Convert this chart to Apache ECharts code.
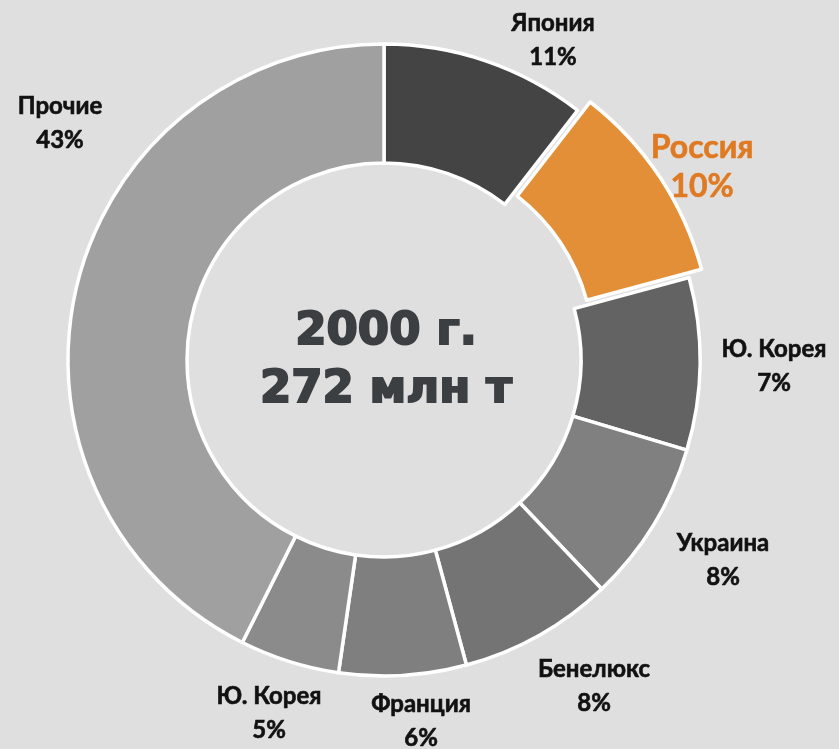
<!DOCTYPE html>
<html>
<head>
<meta charset="utf-8">
<script src="https://cdn.jsdelivr.net/npm/echarts@6/dist/echarts.min.js"></script>
<style>
html,body{margin:0;padding:0;background:#dfdfdf;}
#chart{width:839px;height:749px;}
</style>
</head>
<body>
<div id="chart"></div>
<script>
// Data
const countries = ['Япония', 'Россия', 'Ю. Корея', 'Украина', 'Бенелюкс', 'Франция', 'Ю. Корея', 'Прочие'];
// slice shares as drawn
const shares = [10.5, 10.3, 8.8, 8.3, 7.9, 6.5, 5.1, 42.6];
// percentages as printed on the labels
const shareLabels = ['11%', '10%', '7%', '8%', '8%', '6%', '5%', '43%'];
const centerTitle = ['2000 г.', '272 млн т'];

const colors = ['#444444', '#e38f38', '#636363', '#808080', '#747474', '#7f7f7f', '#8b8b8b', '#a0a0a0'];
const labelPos = [[553, 40], [770, 137], [774, 366], [723, 560], [594, 686], [421, 721], [269, 713], [60, 123]];

const chart = echarts.init(document.getElementById('chart'));
chart.setOption({
  backgroundColor: '#dfdfdf',
  animation: false,
  graphic: [{
    type: 'text',
    x: 386, y: 361,
    style: {
      text: centerTitle.join('\n'),
      fill: '#3b3f42',
      stroke: '#3b3f42',
      lineWidth: 2,
      font: 'bold 45px "DejaVu Sans"',
      lineHeight: 58,
      align: 'center',
      verticalAlign: 'middle'
    }
  }],
  series: [{
    type: 'pie',
    center: [384, 360],
    radius: [197, 316],
    startAngle: 90,
    clockwise: true,
    selectedMode: 'single',
    selectedOffset: 15,
    itemStyle: { borderColor: '#ffffff', borderWidth: 3.5 },
    emphasis: { disabled: true },
    label: {
      show: true,
      position: 'outside',
      fontFamily: 'Lato',
      fontWeight: 'bold',
      fontSize: 24,
      lineHeight: 34,
      color: '#111111',
      textBorderColor: '#111111',
      textBorderWidth: 0.6,
      overflow: 'none',
      formatter: p => countries[p.dataIndex] + '\n' + shareLabels[p.dataIndex]
    },
    labelLine: { show: false },
    labelLayout: p => ({ x: labelPos[p.dataIndex][0], y: labelPos[p.dataIndex][1], align: 'center', verticalAlign: 'middle' }),
    data: shares.map((v, i) => {
      const item = { value: v, name: countries[i], itemStyle: { color: colors[i] } };
      if (i === 1) {
        item.selected = true;
        item.label = { color: '#e07a22', textBorderColor: '#e07a22', fontSize: 32, lineHeight: 39 };
      }
      return item;
    })
  }]
});
</script>
</body>
</html>
